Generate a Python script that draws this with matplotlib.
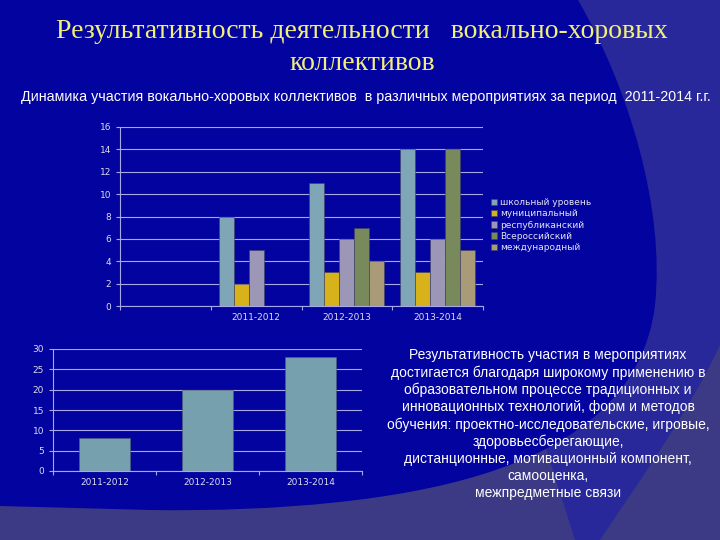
import numpy as np
import matplotlib
matplotlib.use('Agg')
import matplotlib.pyplot as plt
from matplotlib.path import Path
from matplotlib.patches import PathPatch

# data
years = ['', '2011-2012', '2012-2013', '2013-2014']
series_names = ['школьный уровень', 'муниципальный', 'республиканский',
                'Всероссийский', 'международный']
school = [np.nan, 8, 11, 14]
municipal = [np.nan, 2, 3, 3]
republic = [np.nan, 5, 6, 6]
russia = [np.nan, 0, 7, 14]
international = [np.nan, 0, 4, 5]
series_colors = ['#7fa6b6', '#d7b21a', '#9c97b6', '#788a5c', '#a99a78']

total_years = ['2011-2012', '2012-2013', '2013-2014']
total = [8, 20, 28]

title_lines = ['Результативность деятельности   вокально-хоровых', 'коллективов']
subtitle = ('Динамика участия вокально-хоровых коллективов  в различных '
            'мероприятиях за период  2011-2014 г.г.')
note_lines = [
    'Результативность участия в мероприятиях',
    'достигается благодаря широкому применению в',
    'образовательном процессе традиционных и',
    'инновационных технологий, форм и методов',
    'обучения: проектно-исследовательские, игровые,',
    'здоровьесберегающие,',
    'дистанционные, мотивационный компонент,',
    'самооценка,',
    'межпредметные связи',
]

W, H = 720, 540
fig = plt.figure(figsize=(7.2, 5.4), dpi=100)
fig.patch.set_facecolor('#3c3a84')

# slide background shapes (pixel coords, y down)
bg = fig.add_axes([0, 0, 1, 1])
bg.set_xlim(0, W)
bg.set_ylim(H, 0)
bg.axis('off')
bg.set_zorder(-5)

mid = Path([(560, 0), (720, 0), (720, 345), (690, 410), (640, 480), (600, 540),
            (575, 540), (540, 430), (560, 0)],
           [Path.MOVETO, Path.LINETO, Path.LINETO, Path.CURVE4, Path.CURVE4,
            Path.CURVE4, Path.LINETO, Path.LINETO, Path.CLOSEPOLY])
bg.add_patch(PathPatch(mid, facecolor='#28289a', edgecolor='none'))

dark = Path([(0, 0), (578, 0), (630, 90), (665, 210), (655, 305),
             (645, 390), (580, 445), (480, 475),
             (400, 500), (280, 512), (150, 510), (0, 506), (0, 0)],
            [Path.MOVETO, Path.LINETO, Path.CURVE4, Path.CURVE4, Path.CURVE4,
             Path.CURVE4, Path.CURVE4, Path.CURVE4,
             Path.CURVE4, Path.CURVE4, Path.CURVE4, Path.LINETO, Path.CLOSEPOLY])
bg.add_patch(PathPatch(dark, facecolor='#0303a0', edgecolor='none'))

# texts
for line, ypix in zip(title_lines, [32, 63]):
    fig.text(362 / W, 1 - ypix / H, line, ha='center', va='center', fontsize=20,
             family='Liberation Serif', color='#f2f07c')
fig.text(366 / W, 1 - 97 / H, subtitle, ha='center', va='center', fontsize=10.3,
         family='Liberation Sans', color='white')
fig.text(548 / W, 1 - 424 / H, '\n'.join(note_lines), ha='center', va='center',
         fontsize=10, family='Liberation Sans', color='white', linespacing=1.26)

grid_col = '#a8a8e8'
tick_col = '#dcdcec'


def style_axes(ax, ymax, ystep):
    ax.set_facecolor('none')
    for s in ['top', 'right']:
        ax.spines[s].set_visible(False)
    for s in ['left', 'bottom']:
        ax.spines[s].set_color(grid_col)
        ax.spines[s].set_linewidth(0.8)
    ax.set_ylim(0, ymax)
    ax.set_yticks(np.arange(0, ymax + 1, ystep))
    ax.yaxis.grid(True, color=grid_col, linewidth=0.8)
    ax.set_axisbelow(True)
    ax.tick_params(axis='y', colors=grid_col, labelcolor=tick_col, labelsize=6.5,
                   length=3, width=0.8)
    ax.tick_params(axis='x', which='major', length=0, labelcolor=tick_col,
                   labelsize=6.5, pad=5)
    ax.tick_params(axis='x', which='minor', length=3, width=0.8, colors=grid_col)


# main grouped bar chart
ax1 = fig.add_axes([120 / W, 1 - 306 / H, (483 - 120) / W, (306 - 127) / H])
x = np.arange(len(years))
bw = 0.165
groups = [school, municipal, republic, russia, international]
handles = []
for i, (vals, name, col) in enumerate(zip(groups, series_names, series_colors)):
    b = ax1.bar(x + (i - 2) * bw, vals, bw, color=col, edgecolor='#404060',
                linewidth=0.4, label=name)
    handles.append(b)
ax1.set_xlim(-0.5, len(years) - 0.5)
style_axes(ax1, 16, 2)
ax1.set_xticks(x)
ax1.set_xticklabels(years)
ax1.set_xticks(np.arange(len(years) + 1) - 0.5, minor=True)
ax1.legend(handles=handles, loc='upper left', bbox_to_anchor=(491 / W, 1 - 198 / H),
           bbox_transform=fig.transFigure, frameon=False, fontsize=6.5,
           labelcolor='#e4e4f4', handlelength=0.7, handleheight=0.7,
           handletextpad=0.3, labelspacing=0.25, borderpad=0, borderaxespad=0)

# total participation chart
ax2 = fig.add_axes([53 / W, 1 - 471 / H, (362 - 53) / W, (471 - 349) / H])
x2 = np.arange(len(total_years))
ax2.bar(x2, total, 0.5, color='#76a0ae', edgecolor='#506070', linewidth=0.4)
ax2.set_xlim(-0.5, len(total_years) - 0.5)
style_axes(ax2, 30, 5)
ax2.set_xticks(x2)
ax2.set_xticklabels(total_years)
ax2.set_xticks(np.arange(len(total_years) + 1) - 0.5, minor=True)

fig.savefig('out.png', dpi=100, facecolor=fig.get_facecolor())
